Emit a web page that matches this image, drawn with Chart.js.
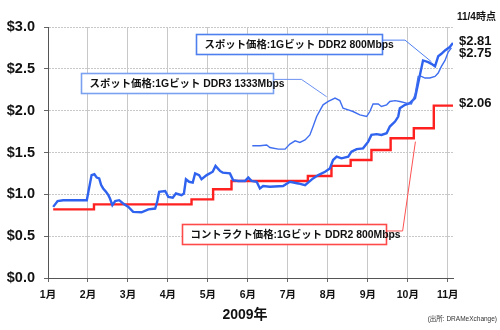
<!DOCTYPE html>
<html>
<head>
<meta charset="utf-8">
<script src="https://cdn.jsdelivr.net/npm/chart.js@4.4.0/dist/chart.umd.min.js"></script>
<style>
  html, body { margin:0; padding:0; background:#fff; }
  #wrap { width:500px; height:330px; position:relative; }
</style>
</head>
<body>
<div id="wrap"><canvas id="dramChart" width="500" height="330"></canvas></div>
<script>
/* ---------- Data (x = months since 1 Jan 2009, 0 = 1月 ... 10 = 11月) ---------- */
const monthLabels = ['1月','2月','3月','4月','5月','6月','7月','8月','9月','10月','11月'];

// Spot price, 1Gbit DDR2 800Mbps (US$)
const ddr2SpotX = [0.13,0.24,0.38,0.97,1.09,1.16,1.22,1.28,1.33,1.38,1.45,1.51,1.55,1.61,1.68,1.78,1.88,2.01,2.13,2.34,2.51,2.68,2.73,2.78,2.93,3.01,3.12,3.20,3.34,3.40,3.45,3.53,3.62,3.68,3.78,3.84,3.97,4.12,4.19,4.30,4.37,4.55,4.63,4.76,4.93,5.01,5.09,5.22,5.30,5.38,5.55,5.88,6.05,6.26,6.43,6.63,6.76,6.93,7.05,7.13,7.22,7.34,7.51,7.59,7.72,7.88,8.01,8.09,8.22,8.34,8.47,8.55,8.68,8.76,8.80,8.93,9.05,9.18,9.26,9.34,9.38,9.51,9.59,9.68,9.76,9.84,9.93,10.05,10.13];
const ddr2SpotY = [0.85,0.92,0.93,0.93,1.23,1.24,1.20,1.19,1.11,1.07,1.03,0.99,0.95,0.87,0.92,0.93,0.89,0.85,0.79,0.785,0.82,0.83,0.91,1.03,1.04,0.97,0.96,1.01,0.99,1.01,1.18,1.15,1.14,1.25,1.23,1.18,1.23,1.27,1.34,1.28,1.26,1.25,1.17,1.16,1.16,1.20,1.16,1.15,1.07,1.10,1.09,1.10,1.15,1.13,1.11,1.19,1.23,1.27,1.31,1.41,1.45,1.43,1.45,1.51,1.54,1.55,1.63,1.71,1.72,1.71,1.73,1.81,1.87,1.93,2.03,2.07,2.09,2.15,2.33,2.51,2.60,2.58,2.56,2.53,2.65,2.68,2.72,2.76,2.81];

// Spot price, 1Gbit DDR3 1333Mbps (US$)
const ddr3SpotX = [5.11,5.30,5.47,5.55,5.76,5.93,6.05,6.18,6.30,6.43,6.55,6.63,6.72,6.80,6.88,7.01,7.18,7.30,7.38,7.51,7.63,7.80,7.97,8.05,8.13,8.26,8.34,8.47,8.55,8.68,8.80,8.97,9.09,9.18,9.26,9.34,9.43,9.55,9.68,9.76,9.84,9.93,10.01,10.09];
const ddr3SpotY = [1.58,1.58,1.59,1.56,1.54,1.54,1.60,1.64,1.62,1.65,1.71,1.81,1.93,2.00,2.07,2.11,2.15,2.12,2.03,2.01,1.99,1.95,1.93,1.99,2.08,2.08,2.05,2.07,2.11,2.12,2.11,2.09,2.08,2.19,2.41,2.41,2.39,2.39,2.41,2.45,2.53,2.60,2.70,2.75];

// Contract price, 1Gbit DDR2 800Mbps (US$) — each point starts a new level
const contractX = [0.13,1.15,3.59,4.13,4.59,6.50,7.09,7.57,8.09,8.57,9.15,9.65,10.13];
const contractY = [0.82,0.88,0.94,1.06,1.16,1.22,1.34,1.41,1.53,1.67,1.79,2.06,2.06];

const endLabels = ['$2.81','$2.75','$2.06'];

/* ---------- Styles ---------- */
const BLUE = '#2f62ee';
const RED = '#ff2020';
const FONT = '"Liberation Sans", Arial, "Noto Sans CJK JP", sans-serif';

const toPoints = (xs, ys) => xs.map((x, i) => ({ x, y: ys[i] }));

/* ---------- Callout boxes (in data units) ---------- */
const callouts = [
  { text:'スポット価格:1Gビット DDR2 800Mbps', box:[3.70,2.915,8.35,2.676], color:'#4d80ee',
    leader:[[8.35,2.843],[8.93,2.843],[9.59,2.585]], lineColor:'#4d7ff0' },
  { text:'スポット価格:1Gビット DDR3 1333Mbps', box:[0.83,2.449,5.63,2.21], color:'#7aa0f0',
    leader:[[5.63,2.374],[6.34,2.374],[6.97,2.166]], lineColor:'#6a90f0' },
  { text:'コントラクト価格:1Gビット DDR2 800Mbps', box:[3.35,0.645,8.45,0.406], color:'#ff4a4a',
    leader:[[8.45,0.562],[8.87,0.562],[9.19,1.63]], lineColor:'#ff5050' }
];

const annotate = {
  id:'annotate',
  afterDatasetsDraw(chart){
    const { ctx, scales:{ x, y }, chartArea:a } = chart;
    ctx.save();

    // leaders + boxes
    callouts.forEach(c => {
      ctx.strokeStyle = c.lineColor;
      ctx.lineWidth = 1;
      ctx.beginPath();
      c.leader.forEach(([lx, ly], i) => {
        const px = x.getPixelForValue(lx), py = y.getPixelForValue(ly);
        i ? ctx.lineTo(px, py) : ctx.moveTo(px, py);
      });
      ctx.stroke();

      const l = Math.round(x.getPixelForValue(c.box[0])) + 0.5;
      const t = Math.round(y.getPixelForValue(c.box[1])) + 0.5;
      const r = Math.round(x.getPixelForValue(c.box[2])) + 0.5;
      const b = Math.round(y.getPixelForValue(c.box[3])) + 0.5;
      ctx.fillStyle = '#fff';
      ctx.fillRect(l, t, r - l, b - t);
      ctx.strokeStyle = c.color;
      ctx.lineWidth = 1.6;
      ctx.strokeRect(l, t, r - l, b - t);

      ctx.fillStyle = '#111';
      ctx.font = 'bold 10.4px ' + FONT;
      ctx.textAlign = 'left';
      ctx.textBaseline = 'middle';
      ctx.fillText(c.text, l + 8, (t + b) / 2 + 0.5);
    });

    // right-side value labels
    ctx.fillStyle = '#111';
    ctx.textAlign = 'left';
    ctx.textBaseline = 'middle';
    ctx.font = 'bold 10px ' + FONT;
    ctx.fillText('11/4時点', a.right + 4, 17);
    ctx.font = 'bold 13px ' + FONT;
    ctx.fillText(endLabels[0], a.right + 6, y.getPixelForValue(2.83));
    ctx.fillText(endLabels[1], a.right + 6, y.getPixelForValue(2.68));
    ctx.fillText(endLabels[2], a.right + 6, y.getPixelForValue(2.09));

    // x-axis year + source
    ctx.font = 'bold 14px ' + FONT;
    ctx.textAlign = 'center';
    ctx.fillText('2009年', 245, 315);
    ctx.font = '6.5px ' + FONT;
    ctx.textAlign = 'right';
    ctx.fillStyle = '#333';
    ctx.fillText('(出所: DRAMeXchange)', 497, 319);
    ctx.restore();
  }
};

/* ---------- Chart ---------- */
new Chart(document.getElementById('dramChart').getContext('2d'), {
  type:'line',
  data:{
    datasets:[
      { label:'DDR3 spot', data:toPoints(ddr3SpotX, ddr3SpotY),
        borderColor:'#3f6ff0', borderWidth:1.4, pointRadius:0, tension:0 },
      { label:'DDR2 spot', data:toPoints(ddr2SpotX, ddr2SpotY),
        borderColor:BLUE, borderWidth:2.4, pointRadius:0, tension:0 },
      { label:'DDR2 contract', data:toPoints(contractX, contractY),
        borderColor:RED, borderWidth:2.4, pointRadius:0, stepped:'before' }
    ]
  },
  options:{
    responsive:false,
    animation:false,
    layout:{ padding:{ top:27, right:47, left:0, bottom:0 } },
    plugins:{ legend:{ display:false }, tooltip:{ enabled:false } },
    scales:{
      x:{
        type:'linear', min:0, max:10.13,
        afterFit:s => { s.height = 52; },
        grid:{ color:'#c8c8c8', lineWidth:1, tickLength:4, tickColor:'#666' },
        border:{ color:'#555', width:1 },
        ticks:{ stepSize:1, includeBounds:false, padding:7, color:'#111',
          font:{ family:FONT, size:10.5, weight:'bold' },
          callback:v => monthLabels[v] }
      },
      y:{
        min:0, max:3,
        afterFit:s => { s.width = 48; },
        grid:{ color:'#c8c8c8', lineWidth:1, tickLength:4, tickColor:'#666' },
        border:{ color:'#555', width:1, dash:[2,1] },
        ticks:{ stepSize:0.5, padding:9, color:'#111',
          font:{ family:FONT, size:14.5, weight:'bold' },
          callback:v => '$' + v.toFixed(1) }
      }
    }
  },
  plugins:[annotate]
});
</script>
</body>
</html>
